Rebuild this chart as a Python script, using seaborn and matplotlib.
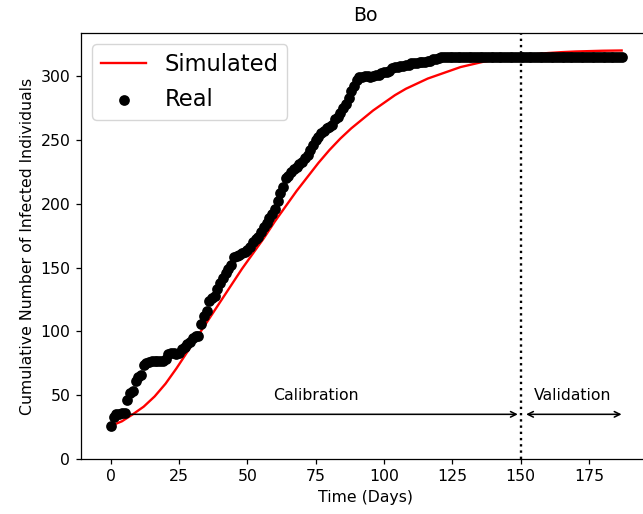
import matplotlib
matplotlib.use("Agg")
import matplotlib.pyplot as plt
import seaborn as sns
import pandas as pd

# Real cumulative infected (daily, day 0..187)
real_values = [
    26, 33, 35, 35, 36, 36, 46, 52, 53, 61, 64, 66, 74, 75, 76, 77, 77, 77, 77, 77,
    78, 82, 83, 83, 82, 83, 86, 88, 90, 92, 95, 96, 96, 106, 112, 116, 124, 126, 128, 133,
    138, 142, 146, 149, 152, 158, 159, 160, 161, 162, 164, 166, 170, 172, 174, 178, 182, 185, 189, 192,
    196, 202, 208, 213, 220, 222, 225, 227, 229, 231, 233, 236, 238, 242, 246, 250, 252, 255, 257, 259,
    260, 262, 266, 268, 271, 275, 278, 283, 288, 292, 297, 299, 299, 300, 300, 299, 300, 301, 301, 302,
    303, 303, 304, 306, 307, 307, 308, 308, 309, 309, 310, 310, 310, 311, 311, 311, 312, 312, 313, 313,
    314, 315,
] + [315] * 66
real_days = list(range(len(real_values)))

# Simulated curve
sim_days = [0, 4, 8, 12, 16, 20, 24, 28, 32, 36, 40, 44, 48, 52, 56, 60, 64, 68, 72, 76,
            80, 84, 88, 92, 96, 100, 104, 108, 112, 116, 120, 124, 128, 132, 136, 140, 145, 150,
            155, 160, 165, 170, 175, 180, 187]
sim_values = [26, 29.5, 35, 41, 49, 59, 71, 84, 97, 110, 123, 136, 149, 161, 173, 186, 198, 210, 221, 232,
              242, 251, 259, 266, 273, 279, 285, 290, 294, 298, 301, 304, 307, 309, 311, 312.5, 314.5, 316,
              317, 318, 318.7, 319.2, 319.5, 319.8, 320]

plt.rcParams['font.family'] = ['DejaVu Sans']
sc = 1.13

fig = plt.figure(figsize=(6.43, 5.14), dpi=100)
ax = fig.add_axes([0.1255, 0.107, 0.885, 0.8288])

sim_df = pd.DataFrame({"day": sim_days, "value": sim_values})
real_df = pd.DataFrame({"day": real_days, "value": real_values})

sns.lineplot(data=sim_df, x="day", y="value", color="red", linewidth=1.5 * sc, label="Simulated", ax=ax)
sns.scatterplot(data=real_df, x="day", y="value", color="black", s=36 * sc * sc * 1.3, linewidth=0,
                label="Real", ax=ax, zorder=3)

ax.axvline(150, color="black", linestyle=":", linewidth=1.5 * sc)

ax.annotate("", xy=(150, 35), xytext=(0, 35), arrowprops=dict(arrowstyle="<->", color="black", lw=1 * sc))
ax.annotate("", xy=(188, 35), xytext=(151, 35), arrowprops=dict(arrowstyle="<->", color="black", lw=1 * sc))
ax.text(75, 50, "Calibration", ha="center", va="center", fontsize=10 * sc)
ax.text(169, 50, "Validation", ha="center", va="center", fontsize=10 * sc)

ax.set_xlim(-11.07, 197.3)
ax.set_ylim(0, 333.7)
ax.set_xticks([0, 25, 50, 75, 100, 125, 150, 175])
ax.set_yticks([0, 50, 100, 150, 200, 250, 300])
ax.set_xlabel("Time (Days)", fontsize=10 * sc)
ax.set_ylabel("Cumulative Number of Infected Individuals", fontsize=10 * sc)
ax.set_title("Bo", fontsize=12 * sc, pad=8.5)
for sp in ax.spines.values():
    sp.set_linewidth(0.8 * sc)
ax.tick_params(direction="out", length=3.5 * sc, width=0.8 * sc, labelsize=10 * sc)

ax.legend(loc="upper left", fontsize=14.4 * sc)

fig.savefig("out.png", dpi=100)
